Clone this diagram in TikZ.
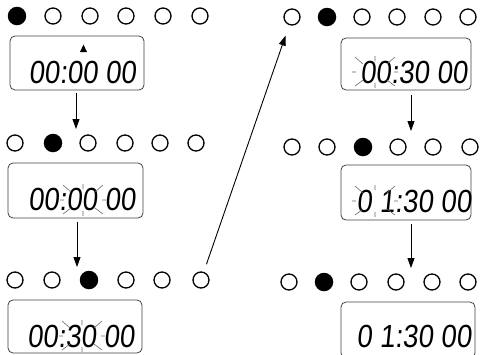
\documentclass[tikz,border=0pt]{standalone}
\usepackage{fontspec}
\newfontfamily\lcdfont[FakeSlant=0.1,FakeStretch=0.86]{Liberation Sans}
\usetikzlibrary{arrows.meta}
\newcommand\dotrow[4]{%
  \foreach \x [count=\i] in {#4} {%
    \ifnum\i=#3\relax
      \node[dotfull] (#1-\i) at (\x,#2) {};
    \else
      \node[dotopen] (#1-\i) at (\x,#2) {};
    \fi}}
\begin{document}
\begin{tikzpicture}[x=1pt,y=-1pt,
  lcdbox/.style={draw=black!75, line width=0.8pt, rounded corners=5pt, inner sep=0pt},
  lcdtext/.style={inner sep=0pt, font=\lcdfont\fontsize{32}{32}\selectfont},
  dotopen/.style={circle, draw, line width=1.3pt, minimum size=16pt, inner sep=0pt},
  dotfull/.style={circle, fill, minimum size=18.5pt, inner sep=0pt},
  arr/.style={line width=0.9pt, -{Triangle[length=10pt,width=7pt]}},
  blinkline/.style={line width=0.6pt, black!60},
  blink/.pic={
    \draw[blinkline] (-20,-15)--(-12,-8) (20,-15)--(12,-8) (-20,14)--(-12,8) (20,14)--(12,8)
      (0,-16)--(0,-11) (0,11)--(0,16) (-23,0)--(-19,0) (19,0)--(23,0);
  }
]
\useasboundingbox (0,0) rectangle (480,354);
\clip (0,0) rectangle (480,354);

% dot rows
\dotrow{L1}{16}{1}{17,53,90,126,163,200}
\dotrow{L2}{143}{2}{15,53,88,125,160,196}
\dotrow{L3}{280}{3}{15,52,89,126,162,201}
\dotrow{R1}{17}{2}{292,327,362,397,433,468}
\dotrow{R2}{147}{3}{292,327,363,398,433,470}
\dotrow{R3}{282}{2}{289,324,359,396,432,468}

% LCD boxes
\node[lcdbox, minimum width=134pt, minimum height=54pt] (bL1) at (77,63) {};
\node[lcdbox, minimum width=135pt, minimum height=55pt] (bL2) at (75.5,190.5) {};
\node[lcdbox, minimum width=134pt, minimum height=53pt] (bL3) at (75,326.5) {};
\node[lcdbox, minimum width=130pt, minimum height=52pt] (bR1) at (406,64) {};
\node[lcdbox, minimum width=130pt, minimum height=55pt] (bR2) at (406,192.5) {};
\node[lcdbox, minimum width=134pt, minimum height=56pt] (bR3) at (408,330) {};

% texts
\node[lcdtext] (tL1) at (82.5,72) {00:00 00};
\node[lcdtext] (tL2) at (82,199) {00:00 00};
\node[lcdtext] (tL3) at (81,336) {00:30 00};
\node[lcdtext] (tR1) at (414,72) {00:30 00};
\node[lcdtext] (tR2) at (414,201) {0 1:30 00};
\node[lcdtext] (tR3) at (414,336) {0 1:30 00};

% marker triangle
\fill (83.5,44.5) -- (80,52) -- (87,52) -- cycle;

% blinking marks
\pic at (83,200) {blink};
\pic at (82,336) {blink};
\pic at (375,72) {blink};
\pic at (375,201) {blink};

% arrows
\coordinate (a1s) at (76,93);   \coordinate (a1e) at (76,129);
\coordinate (a2s) at (77,222);  \coordinate (a2e) at (77,267);
\coordinate (a3s) at (411,95);  \coordinate (a3e) at (411,131);
\coordinate (a4s) at (411,224); \coordinate (a4e) at (411,268);
\draw[arr] (a1s) -- (a1e);
\draw[arr] (a2s) -- (a2e);
\draw[arr] (a3s) -- (a3e);
\draw[arr] (a4s) -- (a4e);
\draw[arr, shorten <=8pt, shorten >=11pt] (L3-6) -- (R1-1);
\end{tikzpicture}
\end{document}
